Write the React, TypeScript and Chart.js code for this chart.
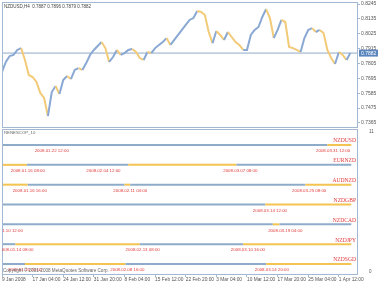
import React, { useEffect, useRef } from "react";
import { Chart, registerables } from "chart.js";

Chart.register(...registerables);

// ---------- data ----------
const chartTitle = "NZDUSD,H4  0.7887 0.7896 0.7879 0.7882";
const indicatorTitle = "RENESCOP_10";
const copyrightText = "Copyright \u00A9 2001-2008 MetaQuotes Software Corp.";

const timeLabels = [
  "9 Jan 2008", "17 Jan 04:00", "24 Jan 12:00", "31 Jan 20:00", "8 Feb 04:00", "15 Feb 12:00",
  "22 Feb 20:00", "3 Mar 04:00", "10 Mar 12:00", "17 Mar 20:00", "25 Mar 04:00", "1 Apr 12:00",
];
const barsPerTimeLabel = 32;
const barsPerSample = 4;
const totalBars = 372;

const closes = [
  0.7742, 0.7816, 0.786, 0.7868, 0.7905, 0.7919, 0.7831, 0.772, 0.7705, 0.7668,
  0.7587, 0.755, 0.7416, 0.7594, 0.7638, 0.7579, 0.7683, 0.7712, 0.769, 0.7757,
  0.7771, 0.7757, 0.7808, 0.7868, 0.7905, 0.7934, 0.7964, 0.7919, 0.7816, 0.7853,
  0.7905, 0.7868, 0.7882, 0.7905, 0.7912, 0.789, 0.7845, 0.7831, 0.789, 0.7882,
  0.7919, 0.7942, 0.7964, 0.7993, 0.7942, 0.7979, 0.8016, 0.8053, 0.809, 0.8127,
  0.8141, 0.8193, 0.8186, 0.8164, 0.8038, 0.7956, 0.8045, 0.8016, 0.7979, 0.8038,
  0.8001, 0.7964, 0.7942, 0.7905, 0.7905, 0.8016, 0.8053, 0.8075, 0.8149, 0.8208,
  0.8141, 0.7993, 0.8053, 0.8127, 0.8112, 0.7927, 0.7919, 0.7905, 0.789, 0.7993,
  0.8053, 0.8067, 0.8038, 0.8053, 0.8031, 0.7905, 0.7845, 0.7801, 0.789, 0.7868,
  0.7831, 0.7882,
];
const lastPrice = 0.7882;
const priceTicks = [0.8245, 0.8135, 0.8025, 0.7915, 0.7805, 0.7695, 0.7585, 0.7475, 0.7365];
const priceMin = 0.7335;
const priceMax = 0.826;

const pairNames = ["NZDUSD", "EURNZD", "AUDNZD", "NZDGBP", "NZDCAD", "NZDJPY", "NZDSGD"];
// colour segments of each pair line: boundaries in bars, and state (1 = blue, 0 = orange)
const pairSegBars = [
  [0, 340, 365],
  [0, 26, 132, 245, 365],
  [0, 27, 128, 134, 317, 365],
  [0, 275, 365],
  [0, 283, 290, 365],
  [0, 14, 144, 252, 365],
  [0, 24, 129, 276, 365],
];
const pairSegStates = [
  [1, 0],
  [0, 1, 0, 1],
  [0, 1, 0, 1, 0],
  [1, 0],
  [1, 0, 1],
  [1, 0, 1, 0],
  [1, 0, 1, 0],
];
const pairSwitchBars = [
  [52, 346],
  [27, 106, 249],
  [29, 134, 321],
  [280],
  [4, 296],
  [15, 147, 257],
  [24, 131, 282],
];
const pairSwitchDates = [
  ["2008.01.22 12:00", "2008.03.31 12:00"],
  ["2008.01.16 08:00", "2008.02.04 12:00", "2008.03.07 08:00"],
  ["2008.01.16 16:00", "2008.02.11 04:00", "2008.03.25 08:00"],
  ["2008.03.14 12:00"],
  ["2008.01.10 12:00", "2008.03.19 04:00"],
  ["2008.01.14 08:00", "2008.02.13 08:00", "2008.03.10 16:00"],
  ["2008.01.15 20:00", "2008.02.08 16:00", "2008.03.14 20:00"],
];
const subMin = 0.4453;
const subMax = 7.807;
const subAxisValues = [7.65, 0.62];
const subAxisLabels = ["11", "0"];

// ---------- styles ----------
const UP = "#8aa8d4";
const DOWN = "#f2ca78";
const ROW_BLUE = "#8eacca";
const ROW_ORANGE = "#f4c452";
const FRAME = "#a3b8d2";
const AXIS_TEXT = "#555555";
const RED = "#e23b3b";
const SANS = "'Liberation Sans', Arial, sans-serif";
const SERIF = "'Liberation Serif', 'Times New Roman', serif";

function xScale(display: boolean) {
  return {
    type: "linear",
    min: 0,
    max: totalBars,
    display,
    afterBuildTicks: (s: any) => {
      s.ticks = timeLabels.map((_, i) => ({ value: i * barsPerTimeLabel }));
    },
    afterFit: (s: any) => {
      s.height = display ? 9 : 0;
      s.paddingLeft = 0;
      s.paddingRight = 0;
    },
    grid: { drawOnChartArea: false, tickLength: 2, color: FRAME },
    border: { display: false },
    ticks: {
      autoSkip: false,
      maxRotation: 0,
      minRotation: 0,
      align: "start",
      padding: 0,
      color: AXIS_TEXT,
      font: { family: SANS, size: 4.8 },
      callback: (v: number) => timeLabels[Math.round(v / barsPerTimeLabel)] ?? "",
    },
  };
}

const fixY = (s: any) => {
  s.width = 20;
  s.paddingTop = 0;
  s.paddingBottom = 0;
};

const mainPlugin = {
  id: "mainDecor",
  afterDraw(chart: any) {
    const { ctx, chartArea: a, scales } = chart;
    ctx.save();
    ctx.strokeStyle = FRAME;
    ctx.lineWidth = 1;
    ctx.strokeRect(a.left + 0.5, a.top + 0.5, a.right - a.left - 1, a.bottom - a.top);
    ctx.fillStyle = "#444";
    ctx.font = `4.5px ${SANS}`;
    ctx.textBaseline = "middle";
    ctx.textAlign = "left";
    ctx.fillText(chartTitle, a.left + 2, a.top + 5);
    const y = scales.y.getPixelForValue(lastPrice);
    ctx.fillStyle = "#5a86bd";
    ctx.fillRect(a.right + 1, y - 3.5, 19, 7);
    ctx.fillStyle = "#ffffff";
    ctx.font = `5px ${SANS}`;
    ctx.fillText(lastPrice.toFixed(4), a.right + 3, y + 0.5);
    ctx.restore();
  },
};

const subPlugin = {
  id: "subDecor",
  afterDraw(chart: any) {
    const { ctx, chartArea: a, scales } = chart;
    ctx.save();
    ctx.strokeStyle = FRAME;
    ctx.lineWidth = 1;
    ctx.strokeRect(a.left + 0.5, a.top + 0.5, a.right - a.left - 1, a.bottom - a.top - 1);
    ctx.beginPath();
    ctx.rect(a.left, a.top, a.right - a.left, a.bottom - a.top);
    ctx.clip();
    ctx.textBaseline = "middle";
    ctx.fillStyle = "#666";
    ctx.font = `4.3px ${SANS}`;
    ctx.textAlign = "left";
    ctx.fillText(indicatorTitle, a.left + 2, a.top + 3.5);
    pairNames.forEach((name, i) => {
      const level = pairNames.length - i;
      const y = scales.y.getPixelForValue(level);
      ctx.fillStyle = RED;
      ctx.font = `5.6px ${SERIF}`;
      ctx.textAlign = "right";
      ctx.fillText(name, a.right - 2, y - 4);
      ctx.font = `4.4px ${SANS}`;
      ctx.textAlign = "center";
      pairSwitchBars[i].forEach((b, j) => {
        ctx.fillText(pairSwitchDates[i][j], scales.x.getPixelForValue(b), y + 6);
      });
    });
    ctx.fillStyle = "#666";
    ctx.font = `4.6px ${SANS}`;
    ctx.textAlign = "left";
    ctx.fillText(copyrightText, a.left + 1, a.bottom - 4);
    ctx.restore();
  },
};

export default function App() {
  const mainRef = useRef<HTMLCanvasElement>(null);
  const subRef = useRef<HTMLCanvasElement>(null);

  useEffect(() => {
    document.body.style.margin = "0";
    const main = new Chart(mainRef.current!, {
      type: "line",
      data: {
        datasets: [
          {
            data: closes.map((c, i) => ({ x: i * barsPerSample, y: c })),
            borderWidth: 2,
            pointRadius: 0,
            tension: 0,
            segment: {
              borderColor: (c: any) => (c.p1.parsed.y >= c.p0.parsed.y ? UP : DOWN),
            },
          },
          {
            data: [
              { x: 0, y: lastPrice },
              { x: totalBars, y: lastPrice },
            ],
            borderColor: "#8fa9c9",
            borderWidth: 1,
            pointRadius: 0,
          },
        ],
      },
      options: {
        animation: false,
        responsive: false,
        devicePixelRatio: 1,
        layout: { padding: { left: 2, top: 2, bottom: 1, right: 0 } },
        plugins: { legend: { display: false }, tooltip: { enabled: false } },
        scales: {
          x: xScale(false) as any,
          y: {
            position: "right",
            min: priceMin,
            max: priceMax,
            afterBuildTicks: (s: any) => {
              s.ticks = priceTicks.map((v) => ({ value: v }));
            },
            afterFit: fixY,
            grid: { drawOnChartArea: false, tickLength: 2, color: FRAME },
            border: { display: false },
            ticks: {
              padding: 1,
              color: AXIS_TEXT,
              font: { family: SANS, size: 5 },
              callback: (v: number) => v.toFixed(4),
            },
          },
        },
      },
      plugins: [mainPlugin],
    });

    const sub = new Chart(subRef.current!, {
      type: "line",
      data: {
        datasets: pairNames.map((_, i) => {
          const level = pairNames.length - i;
          const states = pairSegStates[i];
          return {
            data: pairSegBars[i].map((b) => ({ x: b, y: level })),
            borderWidth: 2,
            pointRadius: 0,
            segment: {
              borderColor: (c: any) => (states[c.p0DataIndex] ? ROW_BLUE : ROW_ORANGE),
            },
          };
        }),
      },
      options: {
        animation: false,
        responsive: false,
        devicePixelRatio: 1,
        layout: { padding: { left: 2, top: 1, bottom: 0, right: 0 } },
        plugins: { legend: { display: false }, tooltip: { enabled: false } },
        scales: {
          x: xScale(true) as any,
          y: {
            position: "right",
            min: subMin,
            max: subMax,
            afterBuildTicks: (s: any) => {
              s.ticks = subAxisValues.map((v) => ({ value: v }));
            },
            afterFit: fixY,
            grid: { display: false },
            border: { display: false },
            ticks: {
              padding: 3,
              color: AXIS_TEXT,
              font: { family: SANS, size: 4.5 },
              callback: (_v: number, i: number) => subAxisLabels[i] ?? "",
            },
          },
        },
      },
      plugins: [subPlugin],
    });

    return () => {
      main.destroy();
      sub.destroy();
    };
  }, []);

  return (
    <div style={{ position: "absolute", left: 0, top: 0, width: 378, height: 284, background: "#fff" }}>
      <canvas ref={mainRef} width={378} height={128} style={{ position: "absolute", left: 0, top: 0 }} />
      <canvas ref={subRef} width={378} height={156} style={{ position: "absolute", left: 0, top: 128 }} />
    </div>
  );
}
